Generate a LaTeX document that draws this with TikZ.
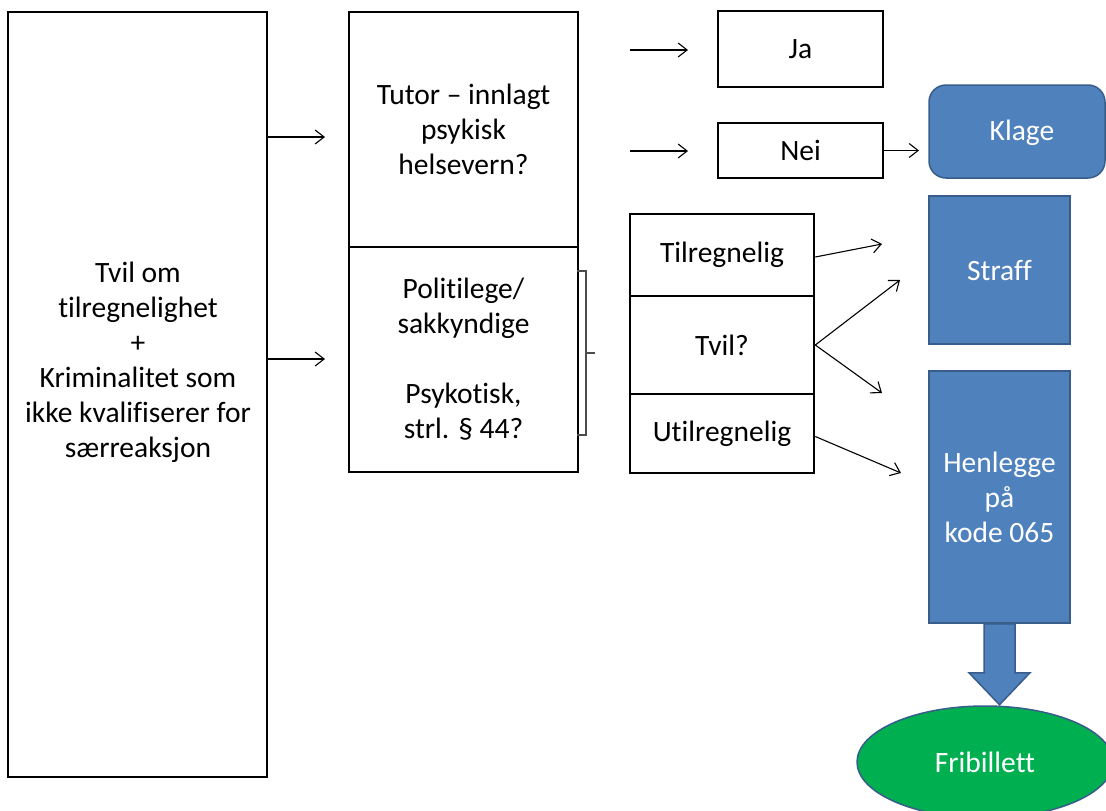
\documentclass[tikz,border=0pt]{standalone}
\usepackage{fontspec}
\setmainfont[Ligatures=NoCommon]{Carlito}
\usetikzlibrary{arrows.meta,shapes.geometric,calc}
\definecolor{bluefill}{HTML}{4F81BD}
\definecolor{blueline}{HTML}{385D8A}
\definecolor{greenfill}{HTML}{00B050}
\begin{document}
\begin{tikzpicture}[x=1pt,y=-1pt,
  every node/.style={font=\fontsize{29.5}{35}\selectfont},
  wbox/.style={draw=black, line width=2.6pt, fill=white, inner sep=0pt, align=center},
  bbox/.style={draw=blueline, line width=1.5pt, fill=bluefill, text=white, inner sep=0pt, align=center},
  arr/.style={-{Straight Barb[length=9pt,width=14pt]}, line width=1.1pt},
  brk/.style={draw=black!70, line width=1.1pt}]
\useasboundingbox (0,0) rectangle (1106,811);
% left box
\node[wbox, minimum width=259pt, minimum height=765pt] (left) at (137.5,394.5) {};
\node[align=center, inner sep=0pt] (lefttext) at (138,362) {Tvil om\\tilregnelighet\\+\\Kriminalitet som\\ikke kvalifiserer for\\særreaksjon};
% middle boxes
\node[wbox, minimum width=229pt, minimum height=235pt] (midtop) at (463.5,129.5) {Tutor -- innlagt\\psykisk\\helsevern?};
\node[wbox, minimum width=229pt, minimum height=225pt] (midbot) at (463.5,359.5) {Politilege/\\sakkyndige\\[35pt]Psykotisk,\\strl. § 44?};
% Ja / Nei
\node[wbox, minimum width=165pt, minimum height=76pt] (ja) at (800.5,49) {Ja};
\node[wbox, minimum width=165pt, minimum height=55pt] (nei) at (800.5,150.5) {Nei};
% Klage
\node[bbox, rounded corners=17pt, minimum width=176pt, minimum height=93pt, text depth=0pt, text height=18pt] (klage) at (1017,131.5) {\hspace*{10pt}Klage};
% stack
\node[wbox, minimum width=184pt, minimum height=82pt] (tilr) at (722,255) {Tilregnelig};
\node[wbox, minimum width=184pt, minimum height=98pt] (tvil) at (722,345) {Tvil?};
\node[wbox, minimum width=184pt, minimum height=79pt] (utilr) at (722,433.5) {Utilregnelig};
% blue boxes
\node[bbox, minimum width=141pt, minimum height=148pt] (straff) at (999.5,270) {Straff};
\node[bbox, minimum width=141pt, minimum height=252pt] (henl) at (999.5,497) {Henlegge\\på\\kode 065};
% ellipse
\node[ellipse, draw=blueline, line width=1.5pt, fill=greenfill, text=white, minimum width=256pt, minimum height=112pt, inner sep=0pt] (fri) at (985,762) {Fribillett};
% block arrow
\draw[bbox] ([xshift=-15.5pt]henl.south) -- ++(31,0) -- ++(0,49) -- ++(15,0) -- ++(-30.5,32) -- ++(-30.5,-32) -- ++(15,0) -- cycle;
% arrows
\coordinate (a1e) at (325,137);
\coordinate (a2e) at (325,359);
\draw[arr] (left.east |- a1e) -- (a1e);
\draw[arr] (left.east |- a2e) -- (a2e);
\coordinate (j0) at (630,50);
\coordinate (j1) at (688,50);
\coordinate (n0) at (630,151);
\coordinate (n1) at (688,151);
\draw[arr] (j0) -- (j1);
\draw[arr] (n0) -- (n1);
\coordinate (k0) at (919,150.5);
\draw[arr] (nei.east) -- (k0);
\coordinate (s1) at (882,244);
\coordinate (s2) at (900,280);
\coordinate (h1) at (882,393);
\coordinate (h2) at (901,473);
\draw[arr] ([yshift=-2pt]tilr.east) -- (s1);
\draw[arr] (tvil.east) -- (s2);
\draw[arr] (tvil.east) -- (h1);
\draw[arr] ([yshift=-3pt]utilr.east) -- (h2);
% bracket
\draw[brk] (577,271) -- (586,271) -- (586,435) -- (577,435);
\draw[brk] (586,353) -- (595,353);
\end{tikzpicture}
\end{document}
